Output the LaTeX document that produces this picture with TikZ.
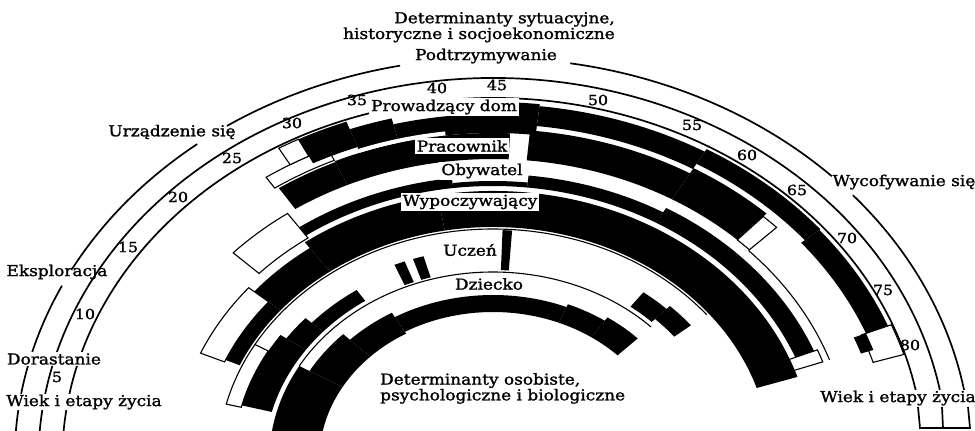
\documentclass[tikz,border=0pt]{standalone}
\usepackage{fontspec}
\setmainfont{DejaVu Serif}[FakeBold=1.5,FakeStretch=1.13]
\newcommand\blk[4]{\fill[black] (#1:#3) arc[start angle=#1,end angle=#2,radius=#3] -- (#2:#4) arc[start angle=#2,end angle=#1,radius=#4] -- cycle;}
\newcommand\wfl[4]{\fill[white] (#1:#3) arc[start angle=#1,end angle=#2,radius=#3] -- (#2:#4) arc[start angle=#2,end angle=#1,radius=#4] -- cycle;}
\newcommand\wht[4]{\filldraw[fill=white,draw=black,line width=1.1pt] (#1:#3) arc[start angle=#1,end angle=#2,radius=#3] -- (#2:#4) arc[start angle=#2,end angle=#1,radius=#4] -- cycle;}
\newcommand\arcl[3]{\draw[line width=1.1pt] (#1:#3) arc[start angle=#1,end angle=#2,radius=#3];}
\begin{document}
\begin{tikzpicture}[x=1pt,y=-1pt,
  lbl/.style={font=\fontsize{15}{13}\selectfont, inner sep=1pt},
  stage/.style={lbl, fill=white, inner xsep=3pt},
  role/.style={lbl, fill=white, inner sep=2pt},
  num/.style={font=\fontsize{14}{14}\selectfont, inner sep=0pt},
  oarc/.style={line width=1.7pt}]
\useasboundingbox (0,0) rectangle (975,431);
\clip (0,0) rectangle (975,431);
\begin{scope}[shift={(493,460)}, x={(1.19pt,0pt)}, y={(0pt,1pt)}]
% outer arcs
\draw[oarc] (9.7:402) arc[start angle=9.7,end angle=41.2,radius=402];
\draw[oarc] (44.9:402) arc[start angle=44.9,end angle=80.7,radius=402];
\draw[oarc] (101.2:402) arc[start angle=101.2,end angle=123.8,radius=402];
\draw[oarc] (128.2:402) arc[start angle=128.2,end angle=151.6,radius=402];
\draw[oarc] (154.3:402) arc[start angle=154.3,end angle=179,radius=402];
\draw[oarc] (10.3:382) arc[start angle=10.3,end angle=179,radius=382];
\draw[oarc] (10.8:362) arc[start angle=10.8,end angle=179,radius=362];
% ---- Homemaker (330-360)
\wht{114}{124}{328}{341}
\wht{117}{120}{341}{360}
\blk{110}{117}{333}{360}
\blk{104}{110}{330}{352}
\blk{89}{104}{327}{346}
\blk{83.7}{89}{327}{358}
\blk{60}{83.7}{336}{356}
\blk{40}{60}{342}{359}
\blk{22}{40}{338}{358}
\wht{17}{22}{334}{361}
\blk{19}{22}{327}{338}
% ---- Worker (301-333)
\blk{114}{123.5}{301}{326}
\blk{87.5}{114}{301}{327}
\wfl{97}{110}{327}{331}
\blk{60}{84.6}{301}{331}
\blk{47}{60}{301}{337}
\wht{44.3}{47}{301}{333}
% ---- Citizen (274-299)
\wht{125}{136.5}{271}{301}
\blk{97}{125}{274}{284}
\blk{84}{97}{274}{279}
\blk{60}{84}{274}{286}
\blk{22}{60}{274}{291}
\arcl{19.5}{44.3}{300}
\wht{19.5}{22}{266}{294}
% ---- Leisurite (233-269)
\wht{140}{156.5}{246}{268}
\blk{140}{156}{233}{246}
\blk{126}{140}{233}{262}
\blk{100}{126}{233}{269}
\blk{18}{100}{233}{269}
% ---- Student (192-230)
\wht{150}{166}{218}{231}
\blk{145}{165.5}{192}{218}
\blk{138}{145}{192}{212}
\blk{124}{138}{192}{205}
\blk{110.5}{113}{190}{212}
\blk{106}{108.5}{190}{212}
\blk{86}{88}{190}{230}
\blk{46}{53}{192}{210}
\blk{39}{46}{196}{214}
\arcl{39}{150}{231}
% ---- Child (146-188)
\blk{150}{180}{146}{188}
\blk{135}{150}{146}{178}
\blk{120}{135}{146}{170}
\blk{68}{120}{148}{165}
\blk{56}{68}{148}{168}
\blk{45}{56}{148}{172}
\arcl{45}{150}{188}
\end{scope}
% title labels
\node[lbl, align=right, anchor=north east] (t1) at (616,11) {Determinanty sytuacyjne,\\historyczne i socjoekonomiczne};
\node[lbl, align=left, anchor=north west] (b1) at (379,372) {Determinanty osobiste,\\psychologiczne i biologiczne};
% stages
\node[stage] (s1) at (486,56) {Podtrzymywanie};
\node[lbl] (s2) at (172,132) {Urządzenie się};
\node[lbl] (s3) at (904,182) {Wycofywanie się};
\node[lbl] (s4) at (57,272) {Eksploracja};
\node[stage] (s5) at (54,359) {Dorastanie};
\node[stage] (s6) at (84,402) {Wiek i etapy życia};
\node[stage] (s7) at (898,398) {Wiek i etapy życia};
% bracket right
\coordinate (k1) at (918,407); \coordinate (k2) at (942,407); \coordinate (k3) at (968,407);
\coordinate (k4) at (920,428); \coordinate (k5) at (943,428); \coordinate (k6) at (970,428);
\draw[oarc] (k1) -- (k4) -- (k6) -- (k3);
\draw[oarc] (k2) -- (k5);
% roles
\node[role] (r1) at (444,107) {Prowadzący dom};
\node[role] (r2) at (462,146) {Pracownik};
\node[role] (r3) at (482,171) {Obywatel};
\node[role] (r4) at (470,202) {Wypoczywający};
\node[role] (r5) at (470,250) {Uczeń};
\node[role] (r6) at (489,284) {Dziecko};
% ages
\foreach \a/\px/\py in {5/57/377,10/85/314,15/128/247,20/178/197,25/232/158,30/292/123,35/357/100,40/437/88,45/497/85,50/598/100,55/692/125,60/747/155,65/797/190,70/847/238,75/883/290,80/910/345}
  \node[num] (n\a) at (\px,\py) {\a};
\end{tikzpicture}
\end{document}
